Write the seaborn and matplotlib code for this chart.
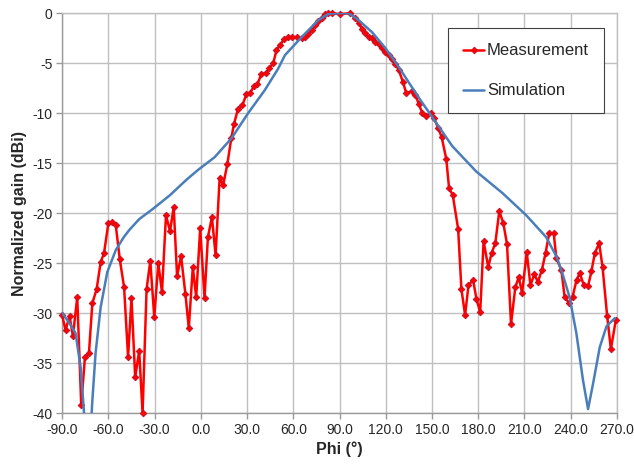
import numpy as np
import pandas as pd
import matplotlib
matplotlib.use("Agg")
import matplotlib.pyplot as plt
import seaborn as sns

meas_phi = [-90, -87.8, -85.2, -83, -80.2, -77.6, -75.2, -72.6, -70.4, -67.6,
            -65, -62.8, -60, -57.4, -55.2, -52.6, -49.8, -47.2, -45, -42.6,
            -40, -37.8, -35.2, -32.8, -30.2, -27.6, -25.2, -22.6, -20, -17.6,
            -15.4, -12.8, -10, -7.8, -5.2, -3.0, -0.4, 2.4, 4.6, 7.2,
            9.6, 12.2, 14.5, 17.2, 19.8, 21.5, 24.1, 27, 29.6, 31.8,
            34.6, 36.7, 39.3, 42.2, 44.5, 47, 49.1, 51.3, 54.1, 56.7,
            58.9, 62.2, 65.4, 67.6, 69.8, 72, 74.1, 76.3, 78.5, 80.7,
            82.8, 85, 90, 97, 100.2, 102.8, 104.6, 106.8, 108.9, 111.1,
            113.3, 115.4, 117.6, 119.8, 122, 124.1, 126.3, 128.5, 131.2, 133.3,
            137.2, 139.3, 141.5, 143.7, 145.9, 149.1, 151.3, 154.1, 156.3, 159.3,
            161.1, 163.5, 167, 169.1, 171.5, 173.7, 176.7, 178.9, 181.3, 183.5,
            186.5, 188.7, 191.1, 193.7, 196.3, 198.7, 201.3, 204.1, 206.3, 208.5,
            211.5, 213.9, 216.5, 218.7, 221.3, 223.7, 226.1, 229, 230.7, 234,
            236.1, 239, 241.2, 243.8, 245.9, 248.5, 251.3, 253.5, 255.7, 258.5,
            260.7, 263.7, 266.1, 269.3]
meas_gain = [-30.2, -31.7, -30.3, -32.3, -28.4, -39.2, -34.4, -34.0, -29.0, -27.6,
             -24.9, -24.0, -21.0, -20.9, -21.2, -24.6, -27.4, -34.4, -28.5, -36.4,
             -33.8, -40.0, -27.6, -24.8, -30.4, -25.0, -27.9, -20.2, -21.8, -19.4,
             -26.3, -24.3, -28.1, -31.5, -25.4, -28.4, -21.5, -28.5, -22.4, -20.4,
             -24.2, -16.5, -17.2, -15.1, -12.5, -11.1, -9.6, -9.2, -8.1, -8.0,
             -7.3, -7.1, -6.1, -6.0, -5.5, -5.0, -3.7, -3.2, -2.6, -2.4,
             -2.4, -2.4, -2.5, -2.4, -2.1, -1.7, -1.2, -0.8, -0.5, -0.1,
             0.0, 0.0, -0.1, 0.0, -0.5, -1.0, -1.6, -2.0, -2.4, -2.5,
             -2.9, -3.1, -3.5, -3.9, -4.2, -4.6, -5.1, -5.7, -6.9, -8.0,
             -7.8, -8.2, -9.1, -10.0, -10.3, -10.0, -10.5, -11.5, -12.4, -14.6,
             -17.5, -18.2, -21.6, -27.6, -30.2, -27.2, -26.7, -28.6, -29.9, -22.8,
             -25.4, -24.0, -23.0, -19.8, -21.0, -23.1, -31.1, -27.4, -26.4, -28.0,
             -23.9, -27.2, -26.1, -26.9, -25.7, -24.0, -22.0, -22.0, -24.5, -25.7,
             -28.4, -29.0, -28.4, -26.7, -26.0, -27.2, -27.3, -25.8, -24.0, -23.0,
             -25.4, -30.3, -33.6, -30.7]

sim_phi = [-90, -85.7, -81.3, -78, -76, -74.5, -73, -71.5, -70.5, -68.3,
           -65, -60.7, -55.2, -50, -46.5, -40, -31.3, -20, -9.6, -2,
           9, 20, 30.7, 41.5, 50, 54.6, 65.4, 76.3, 83, 90,
           96, 102.4, 111.1, 119.8, 128.5, 136.1, 143, 150.2, 163.2, 178.5,
           195.8, 211.1, 224.1, 231, 235, 239.3, 243.7, 248, 251.3, 254.6,
           258.9, 263.3, 268.7]
sim_gain = [-30.0, -30.9, -32.0, -35.4, -39.5, -43, -44, -42, -39, -34.0,
            -29.4, -25.9, -23.7, -22.4, -21.7, -20.6, -19.6, -18.2, -16.7, -15.7,
            -14.4, -12.5, -10.0, -7.7, -5.6, -4.2, -2.4, -0.7, -0.05, 0.0,
            0.0, -0.7, -1.9, -3.5, -5.4, -7.2, -8.8, -10.4, -13.3, -15.8,
            -18.0, -20.2, -22.4, -24.4, -26.2, -28.4, -32.0, -36.7, -39.6, -37.0,
            -33.4, -31.3, -30.5]

x_ticks = [-90, -60, -30, 0, 30, 60, 90, 120, 150, 180, 210, 240, 270]
y_ticks = [0, -5, -10, -15, -20, -25, -30, -35, -40]

sns.set_style("white")
plt.rcParams['font.family'] = ['Liberation Sans', 'DejaVu Sans']

fig = plt.figure(figsize=(6.34, 4.70), dpi=100)
ax = fig.add_axes([0.098, 0.121, 0.875, 0.851])

meas = pd.DataFrame({"phi": meas_phi, "gain": meas_gain})
sim = pd.DataFrame({"phi": sim_phi, "gain": sim_gain})

sns.lineplot(data=meas, x="phi", y="gain", ax=ax, sort=False, color="#ff0000",
             linewidth=1.8, marker="D", markersize=3.4, markerfacecolor="#ff0000",
             markeredgecolor="#c0102a", markeredgewidth=0.6, label="Measurement",
             zorder=3, clip_on=False)
sns.lineplot(data=sim, x="phi", y="gain", ax=ax, sort=False, color="#4a7ebb",
             linewidth=1.8, label="Simulation", zorder=4)

ax.set_xlim(-90, 270)
ax.set_ylim(-40, 0)
ax.set_xticks(x_ticks)
ax.set_xticklabels([f"{t:.1f}" for t in x_ticks])
ax.set_yticks(y_ticks)
ax.set_yticklabels([str(t) for t in y_ticks])
ax.grid(True, color="#bfbfbf", linewidth=1.0)
ax.set_axisbelow(True)
for s in ax.spines.values():
    s.set_color("#bfbfbf")
    s.set_linewidth(1.0)
ax.spines["bottom"].set_color("#9a9a9a")
ax.spines["left"].set_color("#9a9a9a")
ax.tick_params(axis="both", which="both", length=4, width=1, color="#9a9a9a",
               labelsize=10, pad=3, direction="out", bottom=True, left=True)

ax.set_xlabel("Phi (°)", fontsize=11.5, fontweight="bold", labelpad=3)
ax.set_ylabel("Normalized gain (dBi)", fontsize=11.5, fontweight="bold", labelpad=4)

leg = ax.legend(loc="upper left", bbox_to_anchor=(0.695, 0.962), fontsize=12,
                frameon=True, fancybox=False, framealpha=1, edgecolor="#404040",
                borderpad=0.9, labelspacing=1.5, handlelength=1.3, handletextpad=0.15,
                borderaxespad=0)
leg.get_frame().set_linewidth(0.8)

fig.savefig("out.png", dpi=100)
